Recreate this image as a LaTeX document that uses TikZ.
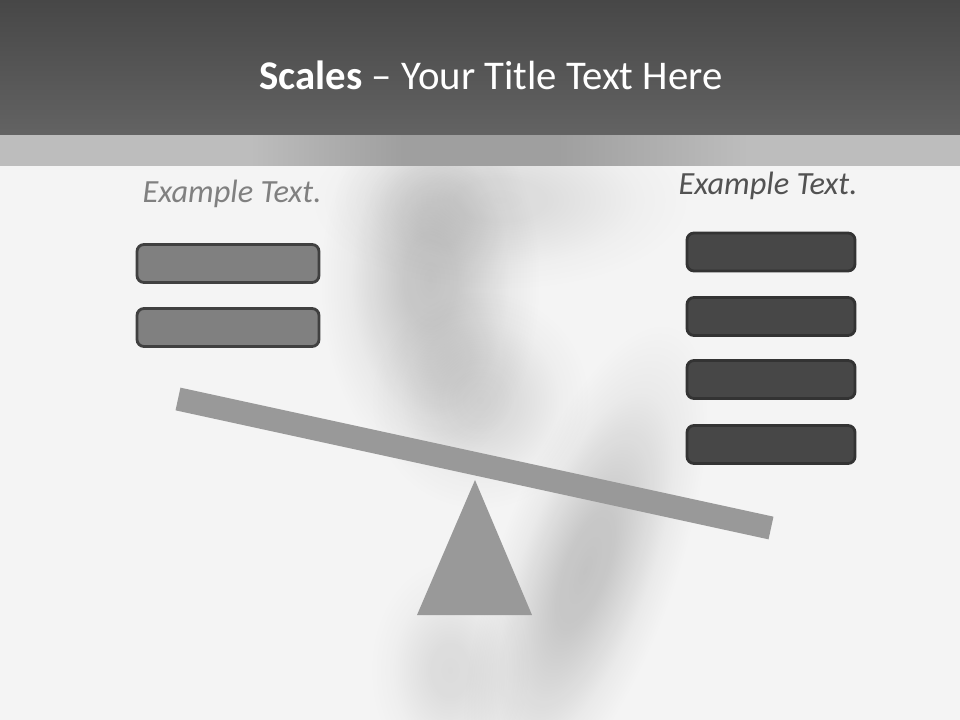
\documentclass[tikz,border=0pt]{standalone}
\usepackage{fontspec}
\setmainfont{Carlito}
\usetikzlibrary{fadings}
\definecolor{bgcol}{HTML}{F4F4F4}
\definecolor{titletop}{HTML}{474747}
\definecolor{titlebot}{HTML}{636363}
\definecolor{bandl}{HTML}{BDBDBD}
\definecolor{bandd}{HTML}{9F9F9F}
\definecolor{lefttext}{HTML}{808080}
\definecolor{righttext}{HTML}{525252}
\definecolor{lightbox}{HTML}{808080}
\definecolor{darkbox}{HTML}{474747}
\definecolor{beamcol}{HTML}{999999}
\pgfdeclarehorizontalshading{bandshade}{100bp}{color(0bp)=(bandl); color(38bp)=(bandl);
  color(46bp)=(bandd); color(54bp)=(bandd); color(64bp)=(bandl); color(100bp)=(bandl)}
\pgfdeclareradialshading{blobfade}{\pgfpointorigin}{color(0bp)=(pgftransparent!0);
  color(6bp)=(pgftransparent!12); color(12bp)=(pgftransparent!45);
  color(18bp)=(pgftransparent!80); color(25bp)=(pgftransparent!100);
  color(50bp)=(pgftransparent!100)}
\pgfdeclarefading{softblob}{\pgfuseshading{blobfade}}
\begin{document}
\begin{tikzpicture}[x=0.025cm, y=-0.025cm,
    blob/.style={fill=black, path fading=softblob, opacity=#1},
    weight/.style={draw, line width=0.07cm, rounded corners=5pt,
      minimum width=4.55cm, minimum height=0.95cm, inner sep=0pt},
    lightw/.style={weight, fill=lightbox, draw=black!75},
    darkw/.style={weight, fill=darkbox, draw=black!80, minimum width=4.2cm},
    label/.style={font=\fontsize{23}{26}\selectfont\itshape}]
  \useasboundingbox (0,0) rectangle (960,720);
  % background with soft shadow
  \fill[bgcol] (0,0) rectangle (960,720);
  \path[blob=0.10] (500,200) ellipse (190 and 90);
  \path[blob=0.12] (480,400) ellipse (110 and 110);
  \path[blob=0.10] (450,670) ellipse (80 and 110);
  \path[blob=0.20] (430,280) ellipse (110 and 190);
  \begin{scope}[transform canvas={rotate around={-20:(585,570)}}]
    \path[blob=0.20] (585,570) ellipse (90 and 260);
  \end{scope}
  % title bar and band
  \shade[top color=titletop, bottom color=titlebot] (0,0) rectangle (960,136);
  \shade[shading=bandshade] (0,136) rectangle (960,166);
  \node[text=white, font=\fontsize{29}{32}\selectfont] (title) at (491,75)
    {\textbf{Scales} – Your Title Text Here};
  % pans
  \node[label, text=lefttext] (lefthead) at (232,194) {Example Text.};
  \node[label, text=righttext] (righthead) at (768,186) {Example Text.};
  \node[lightw] (l1) at (228,263.5) {};
  \node[lightw] (l2) at (228,327.5) {};
  \foreach \y/\n in {252/r1, 316.5/r2, 379.5/r3, 444.5/r4}
    \node[darkw] (\n) at (771,\y) {};
  % beam and pivot
  \fill[beamcol] (475,480) -- (532,615) -- (417,615) -- cycle;
  \draw[beamcol, line width=0.58cm, rounded corners=1pt] (178,399) -- (771,528);
\end{tikzpicture}
\end{document}
